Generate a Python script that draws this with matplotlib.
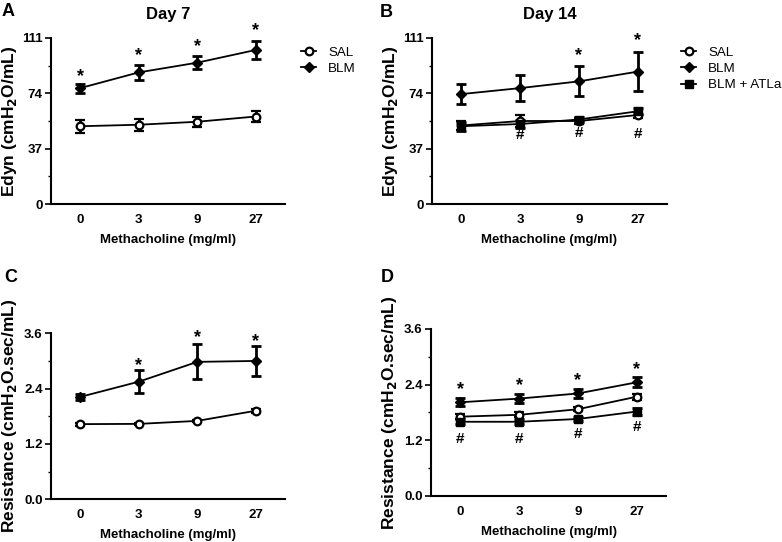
import numpy as np
import matplotlib.pyplot as plt
from matplotlib.ticker import MultipleLocator

plt.rcParams['font.family'] = ['Liberation Sans', 'DejaVu Sans']

doses = ['0', '3', '9', '27']

# Panel A - Edyn, Day 7
a_sal = [52, 53, 55, 58.5]
a_sal_err = [4.5, 4, 3.5, 3.5]
a_blm = [77.5, 88, 94.5, 103]
a_blm_err = [3, 5, 4.5, 6]

# Panel B - Edyn, Day 14
b_sal = [52.5, 55.5, 55.5, 59.5]
b_sal_err = [3, 4, 2, 2]
b_blm = [73.5, 77.5, 82, 88.5]
b_blm_err = [6.5, 8.5, 10, 13]
b_atl = [52, 53.5, 56.5, 62]
b_atl_err = [3, 2.5, 2, 2]

# Panel C - Resistance, Day 7
c_sal = [1.63, 1.635, 1.70, 1.92]
c_sal_err = [0.03, 0.03, 0.03, 0.04]
c_blm = [2.22, 2.55, 2.98, 3.0]
c_blm_err = [0.06, 0.25, 0.38, 0.32]

# Panel D - Resistance, Day 14
d_sal = [1.71, 1.75, 1.87, 2.14]
d_sal_err = [0.05, 0.05, 0.04, 0.06]
d_blm = [2.02, 2.10, 2.21, 2.45]
d_blm_err = [0.09, 0.1, 0.1, 0.11]
d_atl = [1.60, 1.60, 1.66, 1.82]
d_atl_err = [0.05, 0.05, 0.04, 0.08]

# significance marks (dose index -> y level of the mark)
a_star = {0: 85, 1: 99, 2: 105, 3: 116}
b_star = {2: 99, 3: 109}
b_hash = {1: 46, 2: 47.5, 3: 47}
c_star = {1: 2.9, 2: 3.5, 3: 3.42}
d_star = {0: 2.3, 1: 2.38, 2: 2.48, 3: 2.73}
d_hash = {0: 1.23, 1: 1.23, 2: 1.34, 3: 1.48}

x = np.arange(len(doses))

fig = plt.figure(figsize=(7.82, 5.42), dpi=100)
axA = fig.add_axes([0.0652, 0.6236, 0.2993, 0.3063])
axB = fig.add_axes([0.5524, 0.6236, 0.3005, 0.3063])
axC = fig.add_axes([0.0652, 0.0788, 0.2993, 0.3063])
axD = fig.add_axes([0.5512, 0.0849, 0.3005, 0.3081])

styles = {
    'SAL': dict(marker='o', mfc='white', mec='black', ms=5.5, mew=1.6),
    'BLM': dict(marker='D', mfc='black', mec='black', ms=5.3),
    'BLM + ATLa': dict(marker='s', mfc='black', mec='black', ms=5.5),
}


def series(ax, y, err, name):
    ax.errorbar(x, y, yerr=err, color='black', lw=1.3, elinewidth=2,
                capsize=3.8, capthick=2, label=name, **styles[name])


def setup(ax, ymax, step, ylabel, fmt):
    ax.set_xlim(-0.5, 3.5)
    ax.set_ylim(0, ymax)
    ax.yaxis.set_major_locator(MultipleLocator(step))
    ax.yaxis.set_minor_locator(MultipleLocator(step / 2))
    ax.yaxis.set_major_formatter(plt.FuncFormatter(lambda v, p: fmt.format(v)))
    ax.set_xticks(x)
    ax.set_xticklabels(doses)
    for s in ['top', 'right']:
        ax.spines[s].set_visible(False)
    for s in ['left', 'bottom']:
        ax.spines[s].set_linewidth(1.5)
    ax.tick_params(axis='both', which='major', width=1.2, length=4, labelsize=9.5, pad=2)
    ax.tick_params(axis='y', which='minor', width=1, length=2.5)
    ax.tick_params(axis='x', length=0, pad=7)
    for lab in ax.get_xticklabels() + ax.get_yticklabels():
        lab.set_fontweight('bold')
    ax.set_xlabel('Methacholine (mg/ml)', fontsize=9.5, fontweight='bold', labelpad=6)
    ax.set_ylabel(ylabel, fontsize=12.5, fontweight='bold')
    ax.yaxis.set_label_coords(-0.135, 0.5)


def marks(ax, pos, sym, size):
    for i, yv in pos.items():
        ax.text(x[i], yv, sym, ha='center', va='center', fontsize=size, fontweight='bold')


edyn = 'Edyn (cmH$_\\mathbf{2}$O/mL)'
res = 'Resistance (cmH$_\\mathbf{2}$O.sec/mL)'

series(axA, a_sal, a_sal_err, 'SAL')
series(axA, a_blm, a_blm_err, 'BLM')
setup(axA, 111, 37, edyn, '{:.0f}')
marks(axA, a_star, '*', 13)
axA.set_title('Day 7', fontsize=12, fontweight='bold', pad=14)

series(axB, b_sal, b_sal_err, 'SAL')
series(axB, b_blm, b_blm_err, 'BLM')
series(axB, b_atl, b_atl_err, 'BLM + ATLa')
setup(axB, 111, 37, edyn, '{:.0f}')
marks(axB, b_star, '*', 13)
marks(axB, b_hash, '#', 11)
axB.set_title('Day 14', fontsize=12, fontweight='bold', pad=14)

series(axC, c_sal, c_sal_err, 'SAL')
series(axC, c_blm, c_blm_err, 'BLM')
setup(axC, 3.6, 1.2, res, '{:.1f}')
marks(axC, c_star, '*', 13)

series(axD, d_sal, d_sal_err, 'SAL')
series(axD, d_blm, d_blm_err, 'BLM')
series(axD, d_atl, d_atl_err, 'BLM + ATLa')
setup(axD, 3.6, 1.2, res, '{:.1f}')
marks(axD, d_star, '*', 13)
marks(axD, d_hash, '#', 11)

for ax, x0 in [(axA, 296), (axB, 676)]:
    h, l = ax.get_legend_handles_labels()
    h = [hh[0] for hh in h]
    ax.legend(h, l, loc='upper left', bbox_to_anchor=(x0 / 782, 1 - 41 / 542),
              bbox_transform=fig.transFigure, frameon=False, borderaxespad=0,
              fontsize=9.6, handlelength=1.1, handletextpad=0.9, labelspacing=0.3)

for lbl, px, py in [('A', 2, 3), ('B', 380, 4), ('C', 4, 269), ('D', 381, 269)]:
    fig.text(px / 782, 1 - py / 542, lbl, fontsize=13, fontweight='bold', va='top', ha='left')

fig.savefig('out.png', dpi=100)
